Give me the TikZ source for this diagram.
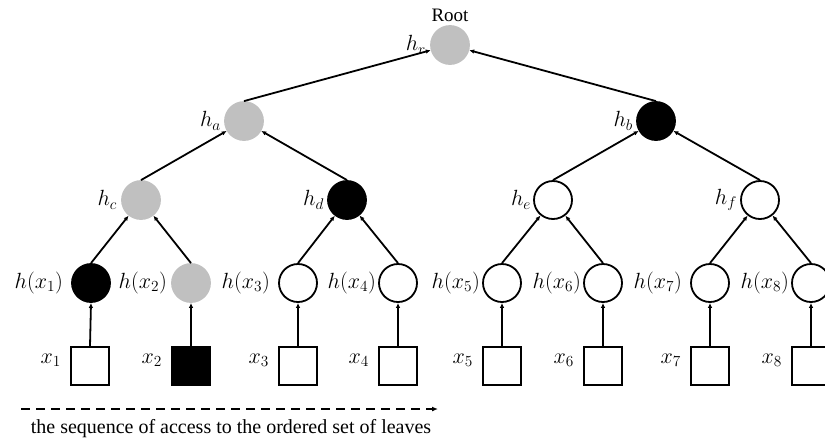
\RequirePackage{fix-cm}
\documentclass[tikz,border=0pt]{standalone}
\usepackage{fontspec}
\setmainfont{Liberation Serif}
\usetikzlibrary{arrows.meta}
\definecolor{nodegray}{RGB}{192,192,192}
\tikzset{
  hnode/.style={circle, minimum size=38pt, inner sep=0pt, line width=1.8pt, draw},
  grayn/.style={hnode, fill=nodegray, draw=nodegray},
  blackn/.style={hnode, fill=black},
  whiten/.style={hnode, fill=white},
  leafbox/.style={rectangle, minimum size=38pt, inner sep=0pt, line width=1.8pt, draw},
  conn/.style={line width=1.8pt, -{Latex[length=5pt,width=4.5pt]}},
  lab/.style={font=\fontsize{22}{26}\selectfont, anchor=east, inner sep=0pt},
}
\begin{document}
\begin{tikzpicture}[x=1pt,y=-1pt]
\useasboundingbox (0,0) rectangle (825,445);
% internal nodes
\node[grayn]  (root) at (450,45)  {};
\node[grayn]  (ha)   at (244,121) {};
\node[blackn] (hb)   at (656,121) {};
\node[grayn]  (hc)   at (141,200) {};
\node[blackn] (hd)   at (347,200) {};
\node[whiten] (he)   at (553,200) {};
\node[whiten] (hf)   at (760,200) {};
% leaf hash nodes
\node[blackn] (l1) at (91,283)  {};
\node[grayn]  (l2) at (191,283) {};
\node[whiten] (l3) at (298,283) {};
\node[whiten] (l4) at (398,283) {};
\node[whiten] (l5) at (502,283) {};
\node[whiten] (l6) at (603,283) {};
\node[whiten] (l7) at (710,283) {};
\node[whiten] (l8) at (811,283) {};
% data boxes
\node[leafbox]            (s1) at (90,366)  {};
\node[leafbox,fill=black] (s2) at (191,366) {};
\node[leafbox]            (s3) at (298,366) {};
\node[leafbox]            (s4) at (398,366) {};
\node[leafbox]            (s5) at (502,366) {};
\node[leafbox]            (s6) at (603,366) {};
\node[leafbox]            (s7) at (710,366) {};
\node[leafbox]            (s8) at (811,366) {};
% labels
\node[font=\fontsize{19}{22}\selectfont] (rootlab) at (450,15) {Root};
\node[lab] (labr) at ([xshift=-4pt]root.west) {$h_r$};
\node[lab] (laba) at ([xshift=-3pt]ha.west) {$h_a$};
\node[lab] (labb) at ([xshift=-3pt]hb.west) {$h_b$};
\node[lab] (labc) at ([xshift=-4pt]hc.west) {$h_c$};
\node[lab] (labd) at ([xshift=-3pt]hd.west) {$h_d$};
\node[lab] (labe) at ([xshift=-2pt]he.west) {$h_e$};
\node[lab] (labf) at ([xshift=-3pt]hf.west) {$h_f$};
\foreach \i/\s in {1/8,2/4,3/8,4/2,5/2,6/2,7/8,8/2}{
  \node[lab] (hl\i) at ([xshift=-\s pt]l\i.west) {$h(x_{\i})$};
  \node[lab] (xl\i) at ([xshift=-9pt,yshift=6pt]s\i.west) {$x_{\i}$};
}
% connectors
\foreach \i in {1,...,8}{ \draw[conn] (s\i.north) -- (l\i.south); }
\draw[conn] (l1.north) -- (hc);
\draw[conn] (l2.north) -- (hc);
\draw[conn] (l3.north) -- (hd);
\draw[conn] (l4.north) -- (hd);
\draw[conn] (l5.north) -- (he);
\draw[conn] (l6.north) -- (he);
\draw[conn] (l7.north) -- (hf);
\draw[conn] (l8.north) -- (hf);
\draw[conn] (hc.north) -- (ha);
\draw[conn] (hd.north) -- (ha);
\draw[conn] (he.north) -- (hb);
\draw[conn] (hf.north) -- (hb);
\draw[conn] (ha.north) -- (root);
\draw[conn] (hb.north) -- (root);
% access sequence
\coordinate (seqA) at (21,409);
\coordinate (seqB) at (438,409);
\draw[line width=1.8pt, dash pattern=on 9pt off 6pt, -{Latex[length=6pt,width=5pt]}] (seqA) -- (seqB);
\node[font=\fontsize{20}{24}\selectfont] (seqtext) at (231,429) {the sequence of access to the ordered set of leaves};
\end{tikzpicture}
\end{document}
